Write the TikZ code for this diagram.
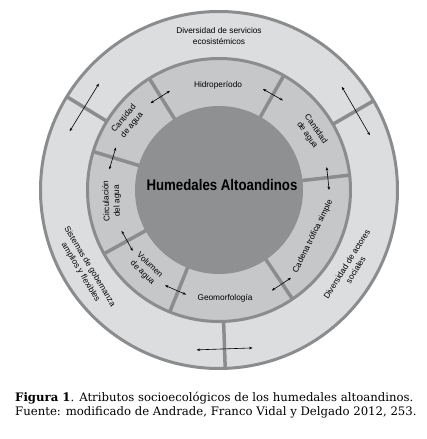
\documentclass[tikz,border=0pt]{standalone}
\usepackage{fontspec}
\usetikzlibrary{arrows.meta,calc}
\newfontfamily\labfont{Liberation Sans}
\newfontfamily\ctrfont[FakeStretch=0.86]{Liberation Sans}
\newfontfamily\capfont{DejaVu Serif}
\definecolor{ringouter}{HTML}{DCDDDF}
\definecolor{ringmid}{HTML}{C6C7C9}
\definecolor{corecol}{HTML}{8E9092}
\definecolor{lineg}{HTML}{8A8C8E}
\begin{document}
\begin{tikzpicture}[x=1pt,y=1pt,
  lbl/.style={font=\labfont\fontsize{8.3}{10.5}\selectfont, align=center, inner sep=0pt, text=black},
  dbl/.style={{Stealth[length=3.4pt,width=2.6pt]}-{Stealth[length=3.4pt,width=2.6pt]}, line width=0.6pt, draw=black},
  divider/.style={line width=3.5pt, draw=lineg},
  capt/.style={anchor=base west, inner sep=0pt, font=\capfont\fontsize{11.7}{14}\selectfont}]
\useasboundingbox[fill=white] (-219,-249) rectangle (208,190);
% rings
\draw[fill=ringouter, draw=lineg, line width=3pt] (0,0) circle[radius=178.5pt];
\foreach \a in {148.5,30,-88} \draw[divider] (\a:131pt) -- (\a:179pt);
\draw[fill=ringmid, draw=lineg, line width=3pt] (0,0) circle[radius=131.5pt];
\foreach \a in {163,122,60.5,6.5,-56,-112,-151} \draw[divider] (\a:82pt) -- (\a:131.5pt);
\fill[corecol] (0,0) circle[radius=84pt];
% centre
\node[font=\ctrfont\bfseries\fontsize{15.4}{18}\selectfont, inner sep=0pt] (core) at (3,5) {Humedales Altoandinos};
% middle ring labels
\node[lbl] (hidro) at (-1,105) {Hidroperíodo};
\node[lbl, rotate=50] (cantL) at (143.2:113.6pt) {Cantidad\\de agua};
\node[lbl, rotate=-55] (cantR) at (32:109pt) {Cantidad\\de agua};
\node[lbl, rotate=92] (circ) at (185.9:107.6pt) {Circulación\\del agua};
\node[lbl, rotate=-44] (vol) at (227.3:107.6pt) {Volumen\\de agua};
\node[lbl] (geo) at (6,-108) {Geomorfología};
\node[lbl, rotate=63.7] (cad) at (-26.3:104.9pt) {Cadena trófica simple};
% outer ring labels
\node[lbl] (servicios) at (0,154) {Diversidad de servicios\\ecosistémicos};
\node[lbl, rotate=-59] (gob) at (210.7:155.8pt) {Sistemas de gobernanza\\amplios y flexibles};
\node[lbl, rotate=58] (act) at (-30.2:153pt) {Diversidad de actores\\sociales};
% arrows
\foreach \a/\r/\h [count=\i] in {148.5/158/28, 30/158/28, -88/159/28,
   122.3/110/11.5, 60.5/109.5/11.5, 6/109.5/11.5, -56.5/113/11.5, 246.5/109/11.5, 209/105/11.5, 163.5/111/11.5}{
  \coordinate (arA\i) at ($(\a:\r pt)+(\a+90:\h pt)$);
  \coordinate (arB\i) at ($(\a:\r pt)+(\a-90:\h pt)$);
  \draw[dbl] (arA\i) -- (arB\i);
}
% caption
\node[capt] (cap1) at (-204,-211.5) {\textbf{Figura 1}. Atributos socioecológicos de los humedales altoandinos.};
\node[capt] (cap2) at (-204,-225) {Fuente: modificado de Andrade, Franco Vidal y Delgado 2012, 253.};
\end{tikzpicture}
\end{document}
